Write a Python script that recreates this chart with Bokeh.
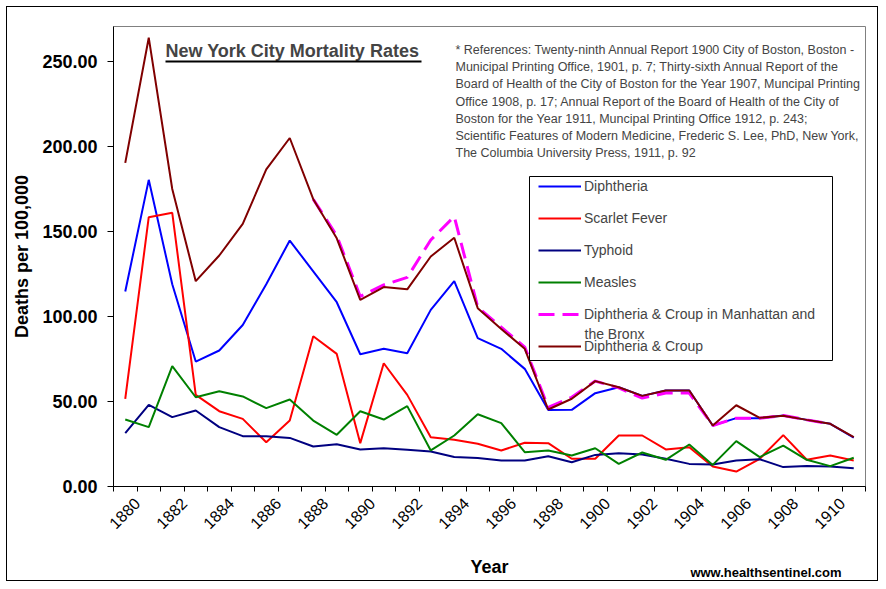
import math
import numpy as np
from bokeh.plotting import figure
from bokeh.models import (Range1d, FixedTicker, CustomJSTickFormatter, NumeralTickFormatter,
                          Legend, LegendItem, Label, BoxAnnotation, LinearAxis)
from bokeh.embed import file_html
from bokeh.resources import INLINE

nan = np.nan
years = list(range(1880, 1912))
diphtheria = [114.7, 180.4, 119.0, 73.5, 80.0, 95.0, 119.0, 144.7, 126.5, 108.4, 77.8, 81.0,
              78.4, 103.9, 120.8, 87.3, 81.0, 69.2, 45.0, 45.1, 54.9, 58.4, 53.3, 56.5,
              56.5, 35.9, 40.2, 40.2, 41.8, 39.2, 36.9, 28.8]
scarlet_fever = [51.6, 158.4, 161.0, 53.9, 44.3, 39.8, 26.0, 38.8, 88.4, 78.0, 25.5, 72.5,
                 53.9, 29.0, 27.5, 25.1, 21.2, 25.7, 25.5, 16.3, 16.3, 30.0, 30.0, 21.8,
                 23.1, 11.8, 8.8, 16.3, 30.2, 15.7, 18.2, 15.3]
typhoid = [31.4, 48.0, 40.8, 44.7, 34.9, 29.6, 29.6, 28.6, 23.5, 24.9, 21.8, 22.5,
           21.6, 20.6, 17.3, 16.7, 15.3, 15.3, 17.8, 14.3, 18.6, 19.6, 18.8, 16.3,
           13.3, 12.9, 15.3, 16.0, 11.4, 12.0, 11.8, 10.8]
measles = [39.4, 34.9, 70.8, 52.5, 56.0, 53.0, 46.1, 51.2, 38.8, 30.4, 44.3, 39.4,
           47.3, 21.2, 30.0, 42.5, 37.3, 20.2, 21.2, 18.2, 22.5, 13.3, 20.0, 15.7,
           24.7, 12.7, 26.7, 17.3, 24.1, 15.7, 12.0, 16.9]
manhattan_bronx = [nan, nan, nan, nan, nan, nan, nan, nan, 169.0, 147.5, 111.8, 118.6,
                   123.0, 145.0, 158.8, 105.5, 93.7, 82.0, 46.5, 52.5, 62.0, 58.0, 52.0, 55.0,
                   55.0, 35.9, 40.2, 40.2, 41.8, 39.2, 36.9, nan]
diphtheria_croup = [190.4, 264.0, 175.0, 120.8, 135.9, 154.5, 186.5, 205.0, 169.0, 146.0, 109.8, 117.3,
                    116.0, 135.3, 146.3, 104.9, 92.7, 81.0, 45.3, 51.6, 62.0, 58.4, 53.3, 56.5,
                    56.5, 35.9, 47.8, 40.4, 41.6, 39.2, 36.9, 29.0]
y_ticks = [0, 50, 100, 150, 200, 250]
label_years = years[::2]

series = [
    ("Diphtheria", diphtheria, "#0000FF", 2, "solid"),
    ("Scarlet Fever", scarlet_fever, "#FF0000", 2, "solid"),
    ("Typhoid", typhoid, "#000080", 2, "solid"),
    ("Measles", measles, "#008000", 2, "solid"),
    ("Diphtheria & Croup in Manhattan and", manhattan_bronx, "#FF00FF", 3, "16 8"),
    ("Diphtheria & Croup", diphtheria_croup, "#800000", 2, "solid"),
]

references = [
    "* References: Twenty-ninth Annual Report 1900 City of Boston, Boston -",
    "Municipal Printing Office, 1901, p. 7; Thirty-sixth Annual Report of the",
    "Board of Health of the City of Boston for the Year 1907, Muncipal Printing",
    "Office 1908, p. 17; Annual Report of the Board of Health of the City of",
    "Boston for the Year 1911, Muncipal Printing Office 1912, p. 243;",
    "Scientific Features of Modern Medicine, Frederic S. Lee, PhD, New York,",
    "The Columbia University Press, 1911, p. 92",
]
source_note = "www.healthsentinel.com"

FONT = "Liberation Sans"
X0, X1 = 1879.5, 1911.5
Y0, Y1 = 0.0, 270.6
# frame edges in page pixels
FL, FR, FT, FB = 113, 865, 26, 486
# the figure sits inside a 6px margin + 1px border
M = 7
W, H = 886 - 2 * M, 589 - 2 * M


def dx(px):
    return X0 + (px - FL) * (X1 - X0) / (FR - FL)


def dy(py):
    return Y0 + (FB - py) * (Y1 - Y0) / (FB - FT)


p = figure(width=W, height=H, output_backend="svg", toolbar_location=None,
           x_range=Range1d(X0, X1), y_range=Range1d(Y0, Y1),
           min_border_left=FL - M, min_border_right=886 - M - FR, min_border_top=FT - M,
           min_border_bottom=589 - M - FB)
p.styles = {"border": "1px solid black", "margin": "6px"}
p.background_fill_color = "white"
p.border_fill_color = "white"
p.outline_line_color = "#808080"
p.outline_line_width = 1
p.xgrid.visible = False
p.ygrid.visible = False

OFF = 0.5
p.xaxis.ticker = FixedTicker(ticks=[y + OFF for y in label_years],
                             minor_ticks=[y - 0.5 for y in years] + [years[-1] + 0.5])
p.xaxis.formatter = CustomJSTickFormatter(code="return String(Math.round(tick - %r));" % OFF)
p.xaxis.major_label_orientation = math.pi / 4
p.xaxis.major_tick_out = 0
p.xaxis.major_tick_in = 0
p.xaxis.minor_tick_out = 5
p.xaxis.minor_tick_in = 0
p.xaxis.minor_tick_line_color = "black"
p.xaxis.major_label_text_font = FONT
p.xaxis.major_label_text_font_size = "16px"
p.xaxis.major_label_standoff = 9
p.xaxis.axis_label = "Year"
p.xaxis.axis_label_text_font = FONT
p.xaxis.axis_label_text_font_style = "bold"
p.xaxis.axis_label_text_font_size = "18px"
p.xaxis.axis_label_standoff = 20

p.yaxis.ticker = FixedTicker(ticks=y_ticks)
p.yaxis.formatter = NumeralTickFormatter(format="0.00")
p.yaxis.major_tick_out = 6
p.yaxis.major_tick_in = 0
p.yaxis.minor_tick_out = 0
p.yaxis.minor_tick_in = 0
p.yaxis.major_label_text_font = FONT
p.yaxis.major_label_text_font_style = "bold"
p.yaxis.major_label_text_font_size = "18px"
p.yaxis.major_label_standoff = 10
p.yaxis.axis_label = "Deaths per 100,000"
p.yaxis.axis_label_text_font = FONT
p.yaxis.axis_label_text_font_style = "bold"
p.yaxis.axis_label_text_font_size = "18px"
p.yaxis.axis_label_standoff = 7

for ax in (p.xaxis, p.yaxis):
    ax.axis_line_color = "black"
    ax.major_tick_line_color = "black"
    ax.major_label_text_color = "black"
    ax.axis_label_text_color = "black"

# source note as a label-only axis under the year axis
site_axis = LinearAxis(ticker=FixedTicker(ticks=[dx(765.5)]),
                       formatter=CustomJSTickFormatter(code="return %r;" % source_note),
                       axis_line_alpha=0, major_tick_out=0, major_tick_in=0,
                       minor_tick_out=0, minor_tick_in=0,
                       major_label_standoff=-16, major_label_text_font=FONT,
                       major_label_text_font_style="bold", major_label_text_font_size="13px",
                       major_label_text_color="black")
p.add_layout(site_axis, "below")

items = []
for name, vals, color, width, dash in series:
    r = p.line(years, np.array(vals, dtype=float), line_color=color, line_width=width,
               line_dash=dash)
    items.append(LegendItem(label=name, renderers=[r]))

# legend frame
p.add_layout(BoxAnnotation(left=dx(529), right=dx(832), top=dy(176), bottom=dy(360),
                           fill_color="white", fill_alpha=1.0,
                           line_color="black", line_width=1, line_alpha=1.0))
legend = Legend(items=items, location=(538 - FL, FB - 356), padding=0, margin=0,
                spacing=12, label_height=20, glyph_height=20, glyph_width=43,
                label_standoff=3, label_text_font=FONT, label_text_font_size="14px",
                background_fill_alpha=0, border_line_alpha=0)
p.add_layout(legend)
p.add_layout(Label(x=dx(584), y=dy(333), text="the Bronx", text_font=FONT,
                   text_font_size="14px", text_baseline="middle", text_align="left"))

# title
p.add_layout(Label(x=dx(165), y=dy(50), text="New York City Mortality Rates", text_font=FONT,
                   text_font_style="bold", text_font_size="18px",
                   text_baseline="middle", text_align="left"))
p.add_layout(BoxAnnotation(left=dx(165), right=dx(421), top=dy(60), bottom=dy(62),
                           fill_color="black", fill_alpha=1.0, line_alpha=0))

for i, line in enumerate(references):
    p.add_layout(Label(x=dx(455), y=dy(49.5 + 17.17 * i), text=line, text_font=FONT,
                       text_font_size="12.5px", text_baseline="middle", text_align="left"))

open("out.html", "w").write(file_html(p, INLINE))
